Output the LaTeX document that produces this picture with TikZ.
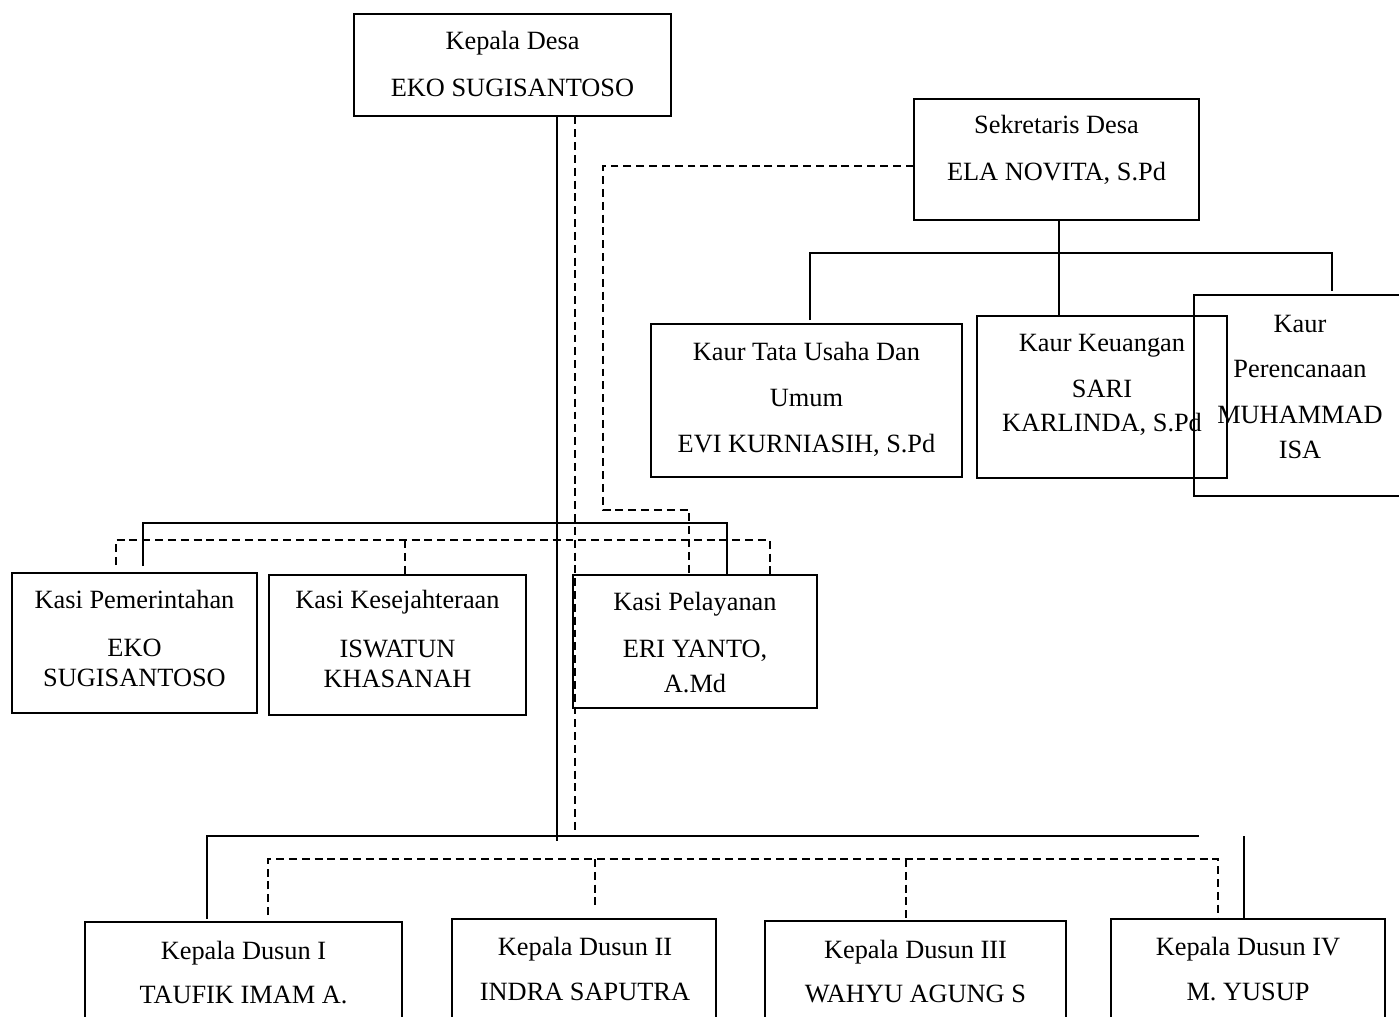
\documentclass[tikz,border=0pt]{standalone}
\usepackage{fontspec}
\setmainfont{Liberation Serif}
\usetikzlibrary{fit}

\begin{document}
\begin{tikzpicture}[x=0.02cm,y=-0.02cm,
  box/.style={draw=black,line width=0.6pt,inner sep=0pt},
  txt/.style={inner sep=0pt,anchor=base,font=\fontsize{15}{18}\selectfont},
  conn/.style={draw=black,line width=0.8pt},
  dconn/.style={draw=black,line width=0.8pt,dash pattern=on 4.5pt off 2.8pt}]
  \clip (0,0) rectangle (1399,1017);
  \node[box,fit={(354,14) (671,116)}] (kades) {};
  \node[txt] (kades1) at (512.5,50) {Kepala Desa};
  \node[txt] (kades2) at (512.5,96) {EKO SUGISANTOSO};
  \node[box,fit={(914,99) (1199,220)}] (sekdes) {};
  \node[txt] (sekdes1) at (1056.5,133) {Sekretaris Desa};
  \node[txt] (sekdes2) at (1056.5,180) {ELA NOVITA, S.Pd};
  \node[box,fit={(651,324) (962,477)}] (kaur1) {};
  \node[txt] (kaur1a) at (806.5,360) {Kaur Tata Usaha Dan};
  \node[txt] (kaur1b) at (806.5,406) {Umum};
  \node[txt] (kaur1c) at (806.5,452) {EVI KURNIASIH, S.Pd};
  \node[box,fit={(977,316) (1227,478)}] (kaur2) {};
  \node[txt] (kaur2a) at (1102,351) {Kaur Keuangan};
  \node[txt] (kaur2b) at (1102,397) {SARI};
  \node[txt] (kaur2c) at (1102,431) {KARLINDA, S.Pd};
  \node[box,fit={(1194,295) (1406,496)}] (kaur3) {};
  \node[txt] (kaur3a) at (1300,332) {Kaur};
  \node[txt] (kaur3b) at (1300,377) {Perencanaan};
  \node[txt] (kaur3c) at (1300,423) {MUHAMMAD};
  \node[txt] (kaur3d) at (1300,458) {ISA};
  \node[box,fit={(12,573) (257,713)}] (kasi1) {};
  \node[txt] (kasi1a) at (134.5,608) {Kasi Pemerintahan};
  \node[txt] (kasi1b) at (134.5,656) {EKO};
  \node[txt] (kasi1c) at (134.5,686) {SUGISANTOSO};
  \node[box,fit={(269,575) (526,715)}] (kasi2) {};
  \node[txt] (kasi2a) at (397.5,608) {Kasi Kesejahteraan};
  \node[txt] (kasi2b) at (397.5,657) {ISWATUN};
  \node[txt] (kasi2c) at (397.5,687) {KHASANAH};
  \node[box,fit={(573,575) (817,708)}] (kasi3) {};
  \node[txt] (kasi3a) at (695,610) {Kasi Pelayanan};
  \node[txt] (kasi3b) at (695,657) {ERI YANTO,};
  \node[txt] (kasi3c) at (695,692) {A.Md};
  \node[box,fit={(85,922) (402,1040)}] (dusun1) {};
  \node[txt] (dusun1a) at (243.5,959) {Kepala Dusun I};
  \node[txt] (dusun1b) at (243.5,1003) {TAUFIK IMAM A.};
  \node[box,fit={(452,919) (716,1040)}] (dusun2) {};
  \node[txt] (dusun2a) at (585,955) {Kepala Dusun II};
  \node[txt] (dusun2b) at (585,1000) {INDRA SAPUTRA};
  \node[box,fit={(765,921) (1066,1040)}] (dusun3) {};
  \node[txt] (dusun3a) at (915.5,958) {Kepala Dusun III};
  \node[txt] (dusun3b) at (915.5,1002) {WAHYU AGUNG S};
  \node[box,fit={(1111,919) (1385,1040)}] (dusun4) {};
  \node[txt] (dusun4a) at (1248,955) {Kepala Dusun IV};
  \node[txt] (dusun4b) at (1248,1000) {M. YUSUP};

  \coordinate (trunk) at (557,841);
  \coordinate (dtrunk) at (575,831);
  \draw[conn] (kades.south -| trunk) -- (trunk);
  \draw[dconn] (kades.south -| dtrunk) -- (dtrunk);

  \coordinate (sekL) at (603,166);
  \coordinate (sekD) at (689,510);
  \draw[dconn] (sekdes.west |- sekL) -- (sekL) |- (sekD) -- (sekD |- kasi3.north);

  \coordinate (kaurL) at (810,320);
  \coordinate (kaurM) at (1059,253);
  \coordinate (kaurR) at (1332,253);
  \coordinate (kaurRend) at (1332,291);
  \draw[conn] (sekdes.south -| kaurM) -- (kaurM |- kaur2.north);
  \draw[conn] (kaurL) |- (kaurR) -- (kaurRend);

  \coordinate (kasiL) at (143,566);
  \coordinate (kasiR) at (727,523);
  \draw[conn] (kasiL) |- (kasiR) -- (kasiR |- kasi3.north);
  \coordinate (kasidL) at (116,565);
  \coordinate (kasidM) at (405,540);
  \coordinate (kasidR) at (770,540);
  \draw[dconn] (kasidL) |- (kasidR) -- (kasidR |- kasi3.north);
  \draw[dconn] (kasidM) -- (kasidM |- kasi2.north);

  \coordinate (dusL) at (207,919);
  \coordinate (dusR) at (1199,836);
  \coordinate (dusV) at (1244,836);
  \draw[conn] (dusL) |- (dusR);
  \draw[conn] (dusV) -- (dusV |- dusun4.north);
  \coordinate (dusdL) at (268,915);
  \coordinate (dusdR) at (1218,859);
  \coordinate (dusd2) at (595,859);
  \coordinate (dusd2end) at (595,908);
  \coordinate (dusd3) at (906,859);
  \draw[dconn] (dusdL) |- (dusdR) -- (dusdR |- dusun4.north);
  \draw[dconn] (dusd2) -- (dusd2end);
  \draw[dconn] (dusd3) -- (dusd3 |- dusun3.north);
\end{tikzpicture}
\end{document}
